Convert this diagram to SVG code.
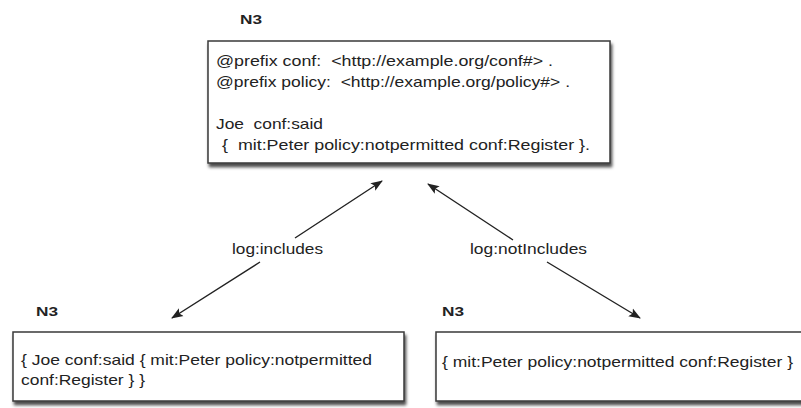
<svg xmlns="http://www.w3.org/2000/svg" width="801" height="408" viewBox="0 0 801 408">
  <style>
    .box { fill: #ffffff; stroke: #3a3a3a; stroke-width: 1.5; filter: url(#shadow); }
    .t { font-family: "Liberation Sans", Arial, sans-serif; font-size: 15px; fill: #222222; white-space: pre; }
    .title { font-family: "Liberation Sans", Arial, sans-serif; font-size: 13px; font-weight: bold; fill: #222222; }
    .edge { fill: none; stroke: #222222; stroke-width: 1.4; marker-start: url(#head); marker-end: url(#head); }
  </style>
  <defs>
    <filter id="shadow" x="-5%" y="-10%" width="115%" height="130%">
      <feDropShadow dx="1.5" dy="3.5" stdDeviation="1.8" flood-color="#000000" flood-opacity="0.7"/>
    </filter>
    <marker id="head" viewBox="0 0 12 10" refX="11" refY="5" markerWidth="12" markerHeight="10" markerUnits="userSpaceOnUse" orient="auto-start-reverse">
      <path d="M0,0.5 L12,5 L0,9.5 L2.5,5 Z" fill="#222222"/>
    </marker>
  </defs>
  <rect width="801" height="408" fill="#ffffff"/>

  <!-- connectors -->
  <g id="connectors">
    <path class="edge" d="M382,181 L295,238 M260,262 L172,318"/>
    <path class="edge" d="M428,184 L513,240 M547,262 L640,318"/>
    <text class="t" x="232" y="254" textLength="91" lengthAdjust="spacingAndGlyphs">log:includes</text>
    <text class="t" x="470" y="254" textLength="117" lengthAdjust="spacingAndGlyphs">log:notIncludes</text>
  </g>

  <!-- top N3 graph -->
  <g id="graph-said">
    <text class="title" x="240" y="24" textLength="22" lengthAdjust="spacingAndGlyphs">N3</text>
    <rect class="box" x="208" y="41" width="402" height="122"/>
    <text class="t" x="216" y="66" textLength="337" lengthAdjust="spacingAndGlyphs">@prefix conf:  &lt;http://example.org/conf#&gt; .</text>
    <text class="t" x="216" y="87" textLength="354" lengthAdjust="spacingAndGlyphs">@prefix policy:  &lt;http://example.org/policy#&gt; .</text>
    <text class="t" x="216" y="129" textLength="107" lengthAdjust="spacingAndGlyphs">Joe  conf:said</text>
    <text class="t" x="222" y="150" textLength="368" lengthAdjust="spacingAndGlyphs">{  mit:Peter policy:notpermitted conf:Register }.</text>
  </g>

  <!-- bottom left N3 graph -->
  <g id="graph-includes">
    <text class="title" x="36" y="316" textLength="22" lengthAdjust="spacingAndGlyphs">N3</text>
    <rect class="box" x="13" y="332" width="391" height="69"/>
    <text class="t" x="21" y="365" textLength="351" lengthAdjust="spacingAndGlyphs">{ Joe conf:said { mit:Peter policy:notpermitted</text>
    <text class="t" x="21" y="385" textLength="124" lengthAdjust="spacingAndGlyphs">conf:Register } }</text>
  </g>

  <!-- bottom right N3 graph -->
  <g id="graph-not-includes">
    <text class="title" x="442" y="316" textLength="22" lengthAdjust="spacingAndGlyphs">N3</text>
    <rect class="box" x="436" y="332" width="370" height="69"/>
    <text class="t" x="442" y="367" textLength="351" lengthAdjust="spacingAndGlyphs">{ mit:Peter policy:notpermitted conf:Register }</text>
  </g>
</svg>
